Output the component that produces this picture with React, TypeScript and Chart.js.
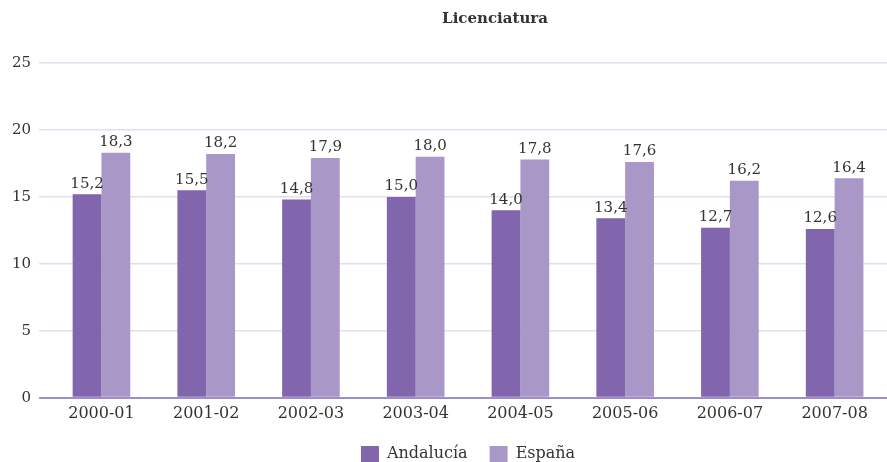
import React, { useEffect, useRef } from "react";
import { Chart, registerables } from "chart.js";

Chart.register(...registerables);

const categories = ["2000-01", "2001-02", "2002-03", "2003-04", "2004-05", "2005-06", "2006-07", "2007-08"];
const andalucia = [15.2, 15.5, 14.8, 15.0, 14.0, 13.4, 12.7, 12.6];
const espana = [18.3, 18.2, 17.9, 18.0, 17.8, 17.6, 16.2, 16.4];
const seriesNames = ["Andalucía", "España"];
const titleText = "Licenciatura";

const FONT = "'DejaVu Serif', serif";
const TEXT = "#333333";

const labelPlugin = {
  id: "valueLabels",
  afterDatasetsDraw(chart: any) {
    const ctx = chart.ctx;
    ctx.save();
    ctx.font = `15px ${FONT}`;
    ctx.fillStyle = TEXT;
    ctx.textAlign = "center";
    ctx.textBaseline = "bottom";
    chart.data.datasets.forEach((ds: any, i: number) => {
      const meta = chart.getDatasetMeta(i);
      meta.data.forEach((bar: any, j: number) => {
        const v = ds.data[j] as number;
        ctx.fillText(v.toFixed(1).replace(".", ","), bar.x, bar.y - 3);
      });
    });
    ctx.restore();
  },
};

const titlePlugin = {
  id: "customTitle",
  afterDraw(chart: any) {
    const ctx = chart.ctx;
    ctx.save();
    ctx.font = `bold 15px ${FONT}`;
    ctx.fillStyle = TEXT;
    ctx.textAlign = "center";
    ctx.textBaseline = "middle";
    ctx.fillText(titleText, 495, 19);
    ctx.restore();
  },
};

export default function App() {
  const ref = useRef<HTMLCanvasElement>(null);
  useEffect(() => {
    if (!ref.current) return;
    const chart = new Chart(ref.current, {
      type: "bar",
      data: {
        labels: categories,
        datasets: [
          { label: seriesNames[0], data: andalucia, backgroundColor: "#8165ad" },
          { label: seriesNames[1], data: espana, backgroundColor: "#a997c8" },
        ],
      },
      options: {
        animation: false,
        responsive: false,
        maintainAspectRatio: false,
        layout: { padding: { top: 63, right: 0, left: 4, bottom: -10 } },
        datasets: { bar: { categoryPercentage: 0.55, barPercentage: 1.0 } },
        plugins: {
          title: { display: false },
          tooltip: { enabled: false },
          legend: {
            position: "bottom",
            fullSize: false,
            labels: {
              font: { family: FONT, size: 16 },
              color: TEXT,
              boxWidth: 18,
              boxHeight: 16,
              padding: 22,
            },
          },
        },
        scales: {
          x: {
            grid: { display: false, drawTicks: false },
            border: { display: false },
            ticks: { font: { family: FONT, size: 16 }, color: TEXT, padding: 6 },
            afterFit: (scale: any) => {
              scale.height -= 5;
            },
          },
          y: {
            min: 0,
            max: 25,
            ticks: { stepSize: 5, font: { family: FONT, size: 15 }, color: TEXT, padding: 8 },
            grid: {
              color: (c: any) => (c.tick && c.tick.value === 0 ? "#a08cc8" : "#e2ddef"),
              lineWidth: (c: any) => (c.tick && c.tick.value === 0 ? 2 : 1.5),
              tickLength: 10,
            },
            border: { display: false },
          },
        },
      },
      plugins: [labelPlugin, titlePlugin],
    });
    return () => chart.destroy();
  }, []);
  return (
    <div style={{ position: "fixed", left: 0, top: 0, width: 887, height: 462 }}>
      <canvas ref={ref} width={887} height={462} />
    </div>
  );
}
